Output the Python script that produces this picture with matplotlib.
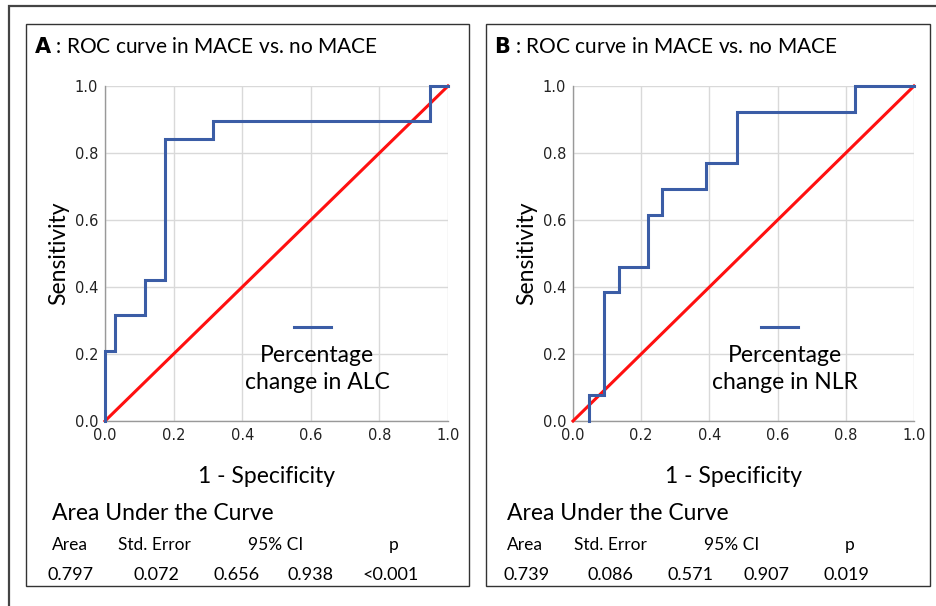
import matplotlib
matplotlib.use("Agg")
import matplotlib.pyplot as plt
from matplotlib.patches import Rectangle

W, H = 936, 606

# ROC step curves (1 - specificity, sensitivity)
alc_fpr = [0.0, 0.0, 0.029, 0.029, 0.117, 0.117, 0.175, 0.175, 0.315, 0.315, 0.947, 0.947, 1.0]
alc_tpr = [0.0, 0.21, 0.21, 0.316, 0.316, 0.421, 0.421, 0.842, 0.842, 0.895, 0.895, 1.0, 1.0]

nlr_fpr = [0.046, 0.046, 0.09, 0.09, 0.135, 0.135, 0.22, 0.22, 0.262, 0.262, 0.391, 0.391,
           0.482, 0.482, 0.827, 0.827, 1.0]
nlr_tpr = [0.0, 0.077, 0.077, 0.385, 0.385, 0.46, 0.46, 0.615, 0.615, 0.692, 0.692, 0.769,
           0.769, 0.923, 0.923, 1.0, 1.0]

ref_line = [0.0, 1.0]
ticks = [0.0, 0.2, 0.4, 0.6, 0.8, 1.0]
tick_labels = ["0.0", "0.2", "0.4", "0.6", "0.8", "1.0"]

titles = ["A", "B"]
legend_names = ["Percentage\nchange in ALC", "Percentage\nchange in NLR"]
table_header = ["Area", "Std. Error", "95% CI", "p"]
alc_stats = ["0.797", "0.072", "0.656", "0.938", "<0.001"]
nlr_stats = ["0.739", "0.086", "0.571", "0.907", "0.019"]

BLUE = "#3B5DA6"
RED = "#FF1010"
FONT = "Lato"


def fx(px):
    return px / W


def fy(py):
    return 1 - py / H


fig = plt.figure(figsize=(W / 100, H / 100), dpi=100)
fig.patch.set_facecolor("white")

# outer frame
fig.patches.append(Rectangle((fx(9), fy(700)), fx(1000), 694 / H,
                             transform=fig.transFigure, fill=False,
                             edgecolor="#444444", linewidth=1.6))

panels = [
    dict(x0=26, x1=469, ax=(105, 448), curve=(alc_fpr, alc_tpr), stats=alc_stats,
         leg_x=317, header_x=[52, 118, 248, 389], val_x=[48, 133, 213, 288, 362]),
    dict(x0=486, x1=930, ax=(573, 914), curve=(nlr_fpr, nlr_tpr), stats=nlr_stats,
         leg_x=785, header_x=[507, 574, 704, 845], val_x=[503, 588, 668, 743, 823]),
]

for i, p in enumerate(panels):
    # panel box
    fig.patches.append(Rectangle((fx(p["x0"]), fy(586)), fx(p["x1"] - p["x0"]), 562 / H,
                                 transform=fig.transFigure, fill=False,
                                 edgecolor="#333333", linewidth=1.0))

    left, right = p["ax"]
    ax = fig.add_axes([fx(left), fy(421), fx(right - left), (421 - 86) / H])
    ax.set_xlim(0, 1)
    ax.set_ylim(0, 1)
    ax.set_xticks(ticks)
    ax.set_yticks(ticks)
    ax.set_xticklabels(tick_labels)
    ax.set_yticklabels(tick_labels)
    ax.tick_params(length=0, labelsize=10.5, colors="#222222", pad=5)
    ax.grid(color="#D9D9D9", linewidth=1.0)
    ax.set_axisbelow(True)
    for side in ["top", "right"]:
        ax.spines[side].set_visible(False)
    for side in ["left", "bottom"]:
        ax.spines[side].set_color("#999999")
        ax.spines[side].set_linewidth(1.0)

    ax.plot(ref_line, ref_line, color=RED, linewidth=2.2, clip_on=False, zorder=3)
    ax.plot(p["curve"][0], p["curve"][1], color=BLUE, linewidth=2.2,
            clip_on=False, zorder=4, solid_joinstyle="miter")

    ax.set_ylabel("Sensitivity", fontsize=16.5, fontfamily=FONT, labelpad=4)
    ax.set_xlabel("1 - Specificity", fontsize=16.5, fontfamily=FONT, labelpad=14)
    ax.xaxis.set_label_coords(0.47, -0.135)

    # legend entry
    ax.plot([0.55, 0.66], [0.28, 0.28], transform=ax.transAxes, color=BLUE,
            linewidth=2.2)
    fig.text(fx(p["leg_x"]), fy(369), legend_names[i], ha="center", va="center",
             fontsize=16.5, fontfamily=FONT, linespacing=1.3)

    # title
    fig.text(fx(p["x0"] + 8), fy(47),
             r"$\bf{" + titles[i] + "}$ : ROC curve in MACE vs. no MACE",
             ha="left", va="center", fontsize=15, fontfamily=FONT)

    # AUC table
    fig.text(fx(p["header_x"][0]), fy(513), "Area Under the Curve", ha="left",
             va="center", fontsize=16.5, fontfamily=FONT)
    for name, hx in zip(table_header, p["header_x"]):
        fig.text(fx(hx), fy(545), name, ha="left", va="center", fontsize=12.5,
                 fontfamily=FONT)
    for val, vx in zip(p["stats"], p["val_x"]):
        fig.text(fx(vx), fy(575), val, ha="left", va="center", fontsize=13,
                 fontfamily=FONT)

fig.savefig("out.png", dpi=100, facecolor="white")
